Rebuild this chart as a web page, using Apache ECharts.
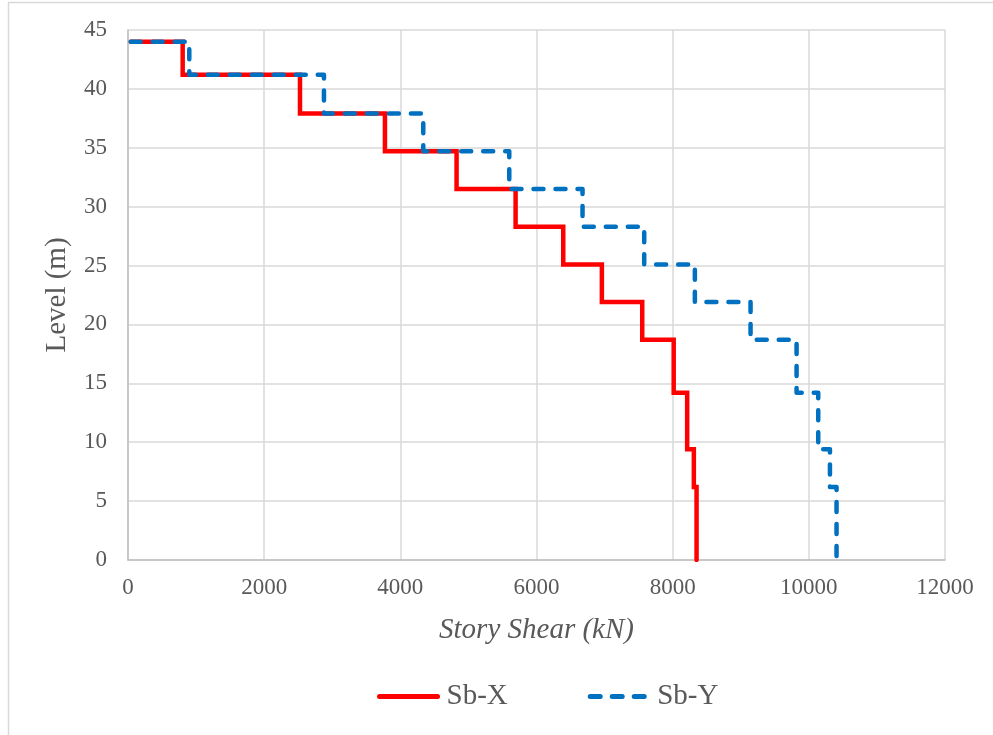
<!DOCTYPE html>
<html>
<head>
<meta charset="utf-8">
<script src="https://cdn.jsdelivr.net/npm/echarts@6/dist/echarts.min.js"></script>
<style>
  html, body { margin: 0; padding: 0; background: #fff; }
  #main { width: 993px; height: 735px; }
</style>
</head>
<body>
<div id="main"></div>
<script>
// storey levels, top to bottom (m)
var levels = [44, 41.2, 37.9, 34.7, 31.5, 28.3, 25.1, 21.9, 18.7, 14.2, 9.4, 6.2, 0];
// storey shear for each storey between levels[i] and levels[i+1] (kN)
var shearX = [803, 2526, 3774, 4826, 5693, 6393, 6960, 7553, 8015, 8213, 8311, 8351];
var shearY = [900, 2878, 4337, 5600, 6676, 7582, 8326, 9144, 9820, 10138, 10310, 10407];
var startShear = 40;

function stepPoints(shear) {
  var pts = [[startShear, levels[0]]];
  for (var i = 0; i < shear.length; i++) {
    pts.push([shear[i], levels[i]]);
    pts.push([shear[i], levels[i + 1]]);
  }
  return pts;
}

var font = 'Liberation Serif';
var grey = '#595959';

var chart = echarts.init(document.getElementById('main'), null, { renderer: 'canvas' });
chart.setOption({
  animation: false,
  backgroundColor: '#fff',
  graphic: [{
    type: 'rect',
    shape: { x: 8.5, y: 2.5, width: 1200, height: 1000 },
    style: { fill: 'none', stroke: '#d9d9d9', lineWidth: 1.5 },
    silent: true
  }],
  grid: { left: 128, right: 48, top: 30, bottom: 175 },
  xAxis: {
    type: 'value',
    min: 0, max: 12000, interval: 2000,
    name: 'Story Shear (kN)',
    nameLocation: 'middle',
    nameGap: 56,
    nameTextStyle: { fontFamily: font, fontSize: 29, fontStyle: 'italic', color: grey, verticalAlign: 'top' },
    axisLine: { show: true, lineStyle: { color: '#bfbfbf', width: 1.5 } },
    axisTick: { show: false },
    axisLabel: { fontFamily: font, fontSize: 23, color: grey, margin: 16, formatter: function (v) { return String(v); } },
    splitLine: { show: true, lineStyle: { color: '#d9d9d9', width: 1.5 } }
  },
  yAxis: {
    type: 'value',
    min: 0, max: 45, interval: 5,
    name: 'Level (m)',
    nameLocation: 'middle',
    nameGap: 56,
    nameTextStyle: { fontFamily: font, fontSize: 29, color: grey },
    axisLine: { show: true, lineStyle: { color: '#bfbfbf', width: 1.5 } },
    axisTick: { show: false },
    axisLabel: { fontFamily: font, fontSize: 23, color: grey, margin: 21 },
    splitLine: { show: true, lineStyle: { color: '#d9d9d9', width: 1.5 } }
  },
  legend: {
    left: 372,
    top: 677,
    itemWidth: 58,
    itemHeight: 12,
    itemGap: 80,
    itemStyle: { opacity: 0 },
    lineStyle: { width: 5, cap: 'round' },
    textStyle: { fontFamily: font, fontSize: 29, color: grey, padding: [0, 0, 0, 4] },
    data: ['Sb-X', 'Sb-Y']
  },
  series: [
    {
      name: 'Sb-X',
      type: 'line',
      symbol: 'none',
      data: stepPoints(shearX),
      lineStyle: { color: '#ff0000', width: 4.5, cap: 'round', join: 'miter' },
      itemStyle: { color: '#ff0000' },
      z: 3
    },
    {
      name: 'Sb-Y',
      type: 'line',
      symbol: 'none',
      data: stepPoints(shearY),
      lineStyle: { color: '#0070c0', width: 4.5, type: [10, 12], cap: 'round', join: 'round' },
      itemStyle: { color: '#0070c0' },
      z: 4
    }
  ]
});
</script>
</body>
</html>
